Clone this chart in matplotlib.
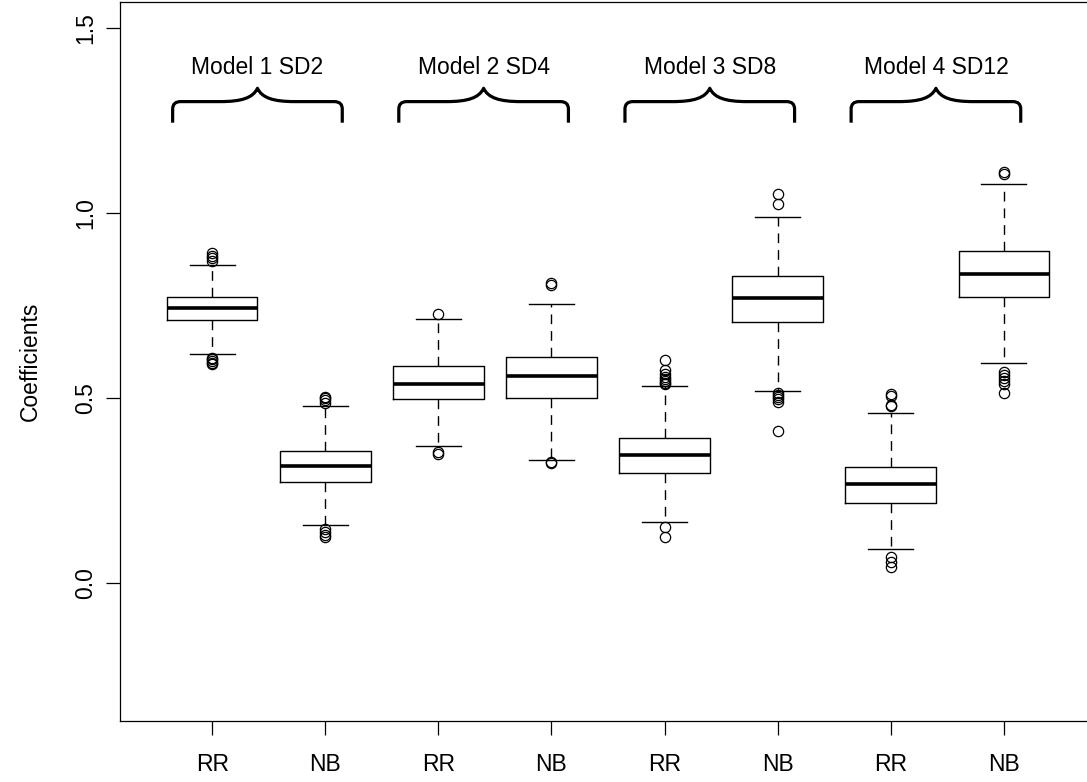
import matplotlib
matplotlib.use("Agg")
import matplotlib.pyplot as plt
from matplotlib.path import Path
from matplotlib.patches import PathPatch

plt.rcParams['font.family'] = ['Liberation Sans', 'DejaVu Sans']

# ---- data ----
labels = ["RR", "NB", "RR", "NB", "RR", "NB", "RR", "NB"]
q1 = [0.712, 0.275, 0.498, 0.502, 0.298, 0.706, 0.216, 0.774]
med = [0.745, 0.317, 0.539, 0.561, 0.346, 0.772, 0.268, 0.835]
q3 = [0.775, 0.357, 0.587, 0.612, 0.393, 0.831, 0.315, 0.899]
whislo = [0.619, 0.158, 0.371, 0.333, 0.167, 0.520, 0.093, 0.596]
whishi = [0.860, 0.480, 0.714, 0.755, 0.534, 0.990, 0.460, 1.078]
fliers = [
    [0.872, 0.879, 0.886, 0.892, 0.610, 0.605, 0.600, 0.596, 0.593],
    [0.488, 0.495, 0.500, 0.505, 0.148, 0.140, 0.132, 0.125],
    [0.727, 0.355, 0.350],
    [0.812, 0.805, 0.329, 0.324],
    [0.603, 0.577, 0.565, 0.558, 0.552, 0.547, 0.541, 0.538, 0.153, 0.126],
    [1.051, 1.024, 0.515, 0.509, 0.503, 0.497, 0.490, 0.412],
    [0.511, 0.506, 0.483, 0.478, 0.070, 0.058, 0.045],
    [1.112, 1.106, 0.570, 0.562, 0.555, 0.548, 0.540, 0.515],
]
group_titles = ["Model 1 SD2", "Model 2 SD4", "Model 3 SD8", "Model 4 SD12"]
group_centers = [1.4, 3.4, 5.4, 7.4]
yticks = [0.0, 0.5, 1.0, 1.5]

W, H = 1087, 782
FS = 16.5
fig = plt.figure(figsize=(W / 100, H / 100), dpi=100)
left_px, right_px, top_px, bot_px = 119.5, 1096.5, 1.7, 721.0
ax = fig.add_axes([left_px / W, 1 - bot_px / H, (right_px - left_px) / W, (bot_px - top_px) / H])

stats = []
for i in range(len(labels)):
    stats.append(dict(med=med[i], q1=q1[i], q3=q3[i], whislo=whislo[i],
                      whishi=whishi[i], fliers=fliers[i], label=labels[i]))

positions = list(range(1, len(labels) + 1))
ax.bxp(stats, positions=positions, widths=0.8, showfliers=True,
       boxprops=dict(color='black', linewidth=1.0),
       medianprops=dict(color='black', linewidth=2.6, solid_capstyle='butt'),
       whiskerprops=dict(color='black', linewidth=1.0, linestyle=(0, (7, 5))),
       capprops=dict(color='black', linewidth=1.0),
       flierprops=dict(marker='o', markerfacecolor='none', markeredgecolor='black',
                       markersize=7.4, markeredgewidth=0.9, linestyle='none'))

ax.set_xlim(0.18, 8.82)
ax.set_ylim(-0.372, 1.572)
ax.set_xticks(positions)
ax.set_xticklabels(labels, fontsize=FS)
ax.set_yticks(yticks)
ax.set_yticklabels([f"{v:.1f}" for v in yticks], fontsize=FS, rotation=90, va='center')
ax.tick_params(axis='both', length=10.4, width=0.9, direction='out')
ax.tick_params(axis='x', pad=12.5)
ax.tick_params(axis='y', pad=5.5)
for s in ax.spines.values():
    s.set_linewidth(0.9)

fig.text(30 / W, 1 - 361 / H, "Coefficients", rotation=90, ha='center', va='center', fontsize=FS)

# braces
yb, yh, yt = 1.245, 1.302, 1.338
hw = 0.75
for c, t in zip(group_centers, group_titles):
    verts = [
        (c - hw, yb), (c - hw, yh - 0.02),
        (c - hw, yh), (c - hw + 0.07, yh),
        (c - 0.33, yh),
        (c - 0.14, yh), (c - 0.04, yh + 0.01), (c, yt),
        (c + 0.04, yh + 0.01), (c + 0.14, yh), (c + 0.33, yh),
        (c + hw - 0.07, yh),
        (c + hw, yh), (c + hw, yh - 0.02),
        (c + hw, yb),
    ]
    codes = [Path.MOVETO, Path.LINETO,
             Path.CURVE3, Path.CURVE3,
             Path.LINETO,
             Path.CURVE4, Path.CURVE4, Path.CURVE4,
             Path.CURVE4, Path.CURVE4, Path.CURVE4,
             Path.LINETO,
             Path.CURVE3, Path.CURVE3,
             Path.LINETO]
    ax.add_patch(PathPatch(Path(verts, codes), facecolor='none', edgecolor='black',
                           linewidth=2.3, capstyle='butt', joinstyle='round'))
    ax.text(c, 1.377, t, ha='center', va='baseline', fontsize=FS)

fig.savefig("out.png", dpi=100)
